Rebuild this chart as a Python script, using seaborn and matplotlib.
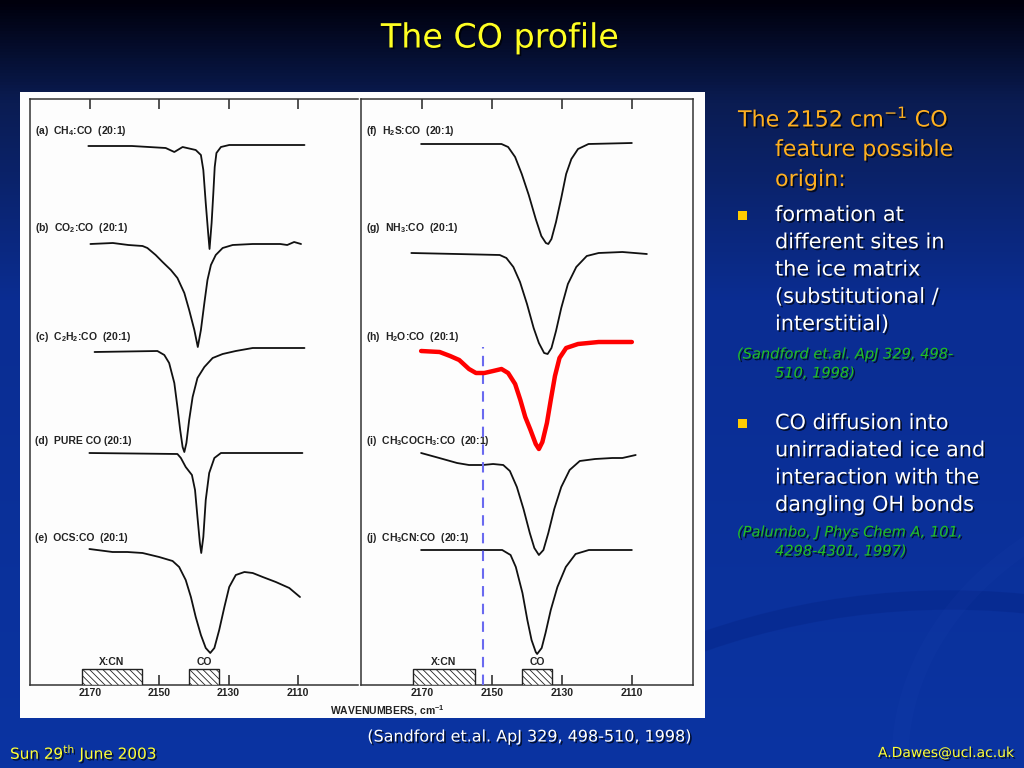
"""
Slide recreation: "The CO profile" — CO stretch band in 20:1 matrices
(Sandford et al. style stacked spectra) with bullet notes.
"""

import matplotlib
matplotlib.use("Agg")
import matplotlib.pyplot as plt
import matplotlib.patheffects as pe
from matplotlib.colors import LinearSegmentedColormap
from matplotlib.patches import Arc, Rectangle
import numpy as np
import pandas as pd
import seaborn as sns

# ---- spectra: wavenumber [cm-1] and stacked level (panel units)
A_WN = [2170.6, 2158.0, 2148.2, 2145.7, 2143.3, 2139.5, 2138.0, 2137.3, 2136.6, 2135.9,
        2135.5, 2134.9, 2134.4, 2134.0, 2133.5, 2132.2, 2129.8, 2120.0, 2108.0]
A_T = [539, 539, 537, 533, 538, 535, 530, 515, 482, 452, 436, 462, 492, 518, 532, 538, 540, 540, 540]

B_WN = [2170.0, 2163.5, 2159.0, 2154.9, 2153.5, 2151.1, 2149.1, 2146.7, 2144.8, 2142.8,
        2141.4, 2139.9, 2138.9, 2138.0, 2137.0, 2136.1, 2135.1, 2133.7, 2131.7, 2128.8,
        2123.0, 2115.0, 2113.0, 2111.0, 2109.0]
B_T = [441, 442, 440, 439, 437, 430, 423, 415, 407, 392, 375, 355, 338, 355, 382, 405, 420,
       430, 437, 440, 441, 441, 440, 443, 441]

C_WN = [2168.8, 2150.6, 2148.6, 2147.2, 2145.7, 2144.8, 2144.0, 2143.3, 2142.8, 2142.2,
        2141.4, 2140.4, 2139.0, 2137.0, 2134.6, 2131.7, 2127.9, 2123.0, 2108.0]
C_T = [333, 334, 330, 322, 302, 278, 255, 238, 233, 242, 265, 288, 307, 318, 327, 331, 334, 337, 337]

D_WN = [2170.3, 2144.8, 2143.8, 2142.4, 2140.6, 2139.7, 2139.0, 2138.3, 2137.9, 2137.3,
        2136.6, 2135.6, 2134.1, 2132.2, 2108.6]
D_T = [232, 231, 227, 218, 210, 195, 168, 142, 132, 148, 185, 212, 227, 232, 232]

E_WN = [2170.3, 2163.6, 2159.3, 2154.9, 2150.1, 2146.2, 2144.3, 2142.4, 2140.9, 2139.5,
        2138.0, 2136.6, 2135.3, 2134.1, 2132.7, 2131.2, 2129.8, 2127.9, 2125.4, 2123.0,
        2120.1, 2116.3, 2112.4, 2109.3]
E_T = [136, 133, 133, 132, 128, 124, 118, 105, 88, 68, 50, 37, 32, 37, 55, 78, 98, 110, 113,
       112, 108, 103, 97, 88]

F_WN = [2170.3, 2147.3, 2145.4, 2143.4, 2141.5, 2139.5, 2137.5, 2135.9, 2134.6, 2133.9,
        2133.0, 2131.7, 2130.2, 2128.8, 2127.3, 2125.4, 2122.4, 2110.0]
F_T = [541, 541, 538, 528, 511, 490, 466, 449, 442, 441, 446, 463, 487, 511, 526, 536, 541, 542]

G_WN = [2173.1, 2160.0, 2147.8, 2145.9, 2143.9, 2142.0, 2140.0, 2138.1, 2136.6, 2135.1,
        2134.1, 2133.0, 2131.7, 2130.2, 2128.3, 2125.9, 2122.9, 2119.5, 2112.7, 2105.7]
G_T = [432, 431, 430, 427, 418, 403, 381, 357, 342, 332, 331, 337, 354, 377, 401, 418, 429,
       432, 433, 431]

H_WN = [2170.3, 2165.0, 2162.0, 2159.4, 2156.6, 2154.6, 2152.2, 2149.7, 2147.3, 2145.4,
        2143.4, 2141.9, 2140.5, 2139.0, 2137.5, 2136.6, 2135.6, 2134.3, 2133.2, 2132.0,
        2130.7, 2128.8, 2125.4, 2119.5, 2110.0]
H_T = [334, 333, 329, 325, 316, 312, 312, 314, 316, 312, 301, 285, 268, 255, 241, 236, 243,
       262, 285, 309, 327, 337, 341, 343, 343]

I_WN = [2170.3, 2165.1, 2160.0, 2156.6, 2152.7, 2149.7, 2146.8, 2144.9, 2142.9, 2141.0,
        2139.2, 2137.9, 2136.6, 2135.3, 2133.9, 2132.2, 2130.2, 2127.8, 2124.9, 2120.5,
        2115.6, 2112.7, 2108.9]
I_T = [232, 227, 222, 220, 220, 221, 220, 214, 198, 176, 152, 137, 130, 135, 152, 176, 198,
       215, 224, 226, 227, 227, 230]

J_WN = [2170.3, 2147.1, 2144.7, 2143.2, 2141.3, 2139.9, 2138.7, 2137.5, 2137.1, 2135.8,
        2134.7, 2133.2, 2131.3, 2128.9, 2126.1, 2122.3, 2110.0]
J_T = [135, 135, 130, 118, 92, 65, 45, 33, 31, 37, 52, 75, 98, 118, 131, 135, 135]

LEFT_LABELS = ["(a)  CH$_4$:CO  (20:1)", "(b)  CO$_2$:CO  (20:1)", "(c)  C$_2$H$_2$:CO  (20:1)",
               "(d)  PURE CO (20:1)", "(e)  OCS:CO  (20:1)"]
RIGHT_LABELS = ["(f)  H$_2$S:CO  (20:1)", "(g)  NH$_3$:CO  (20:1)", "(h)  H$_2$O:CO  (20:1)",
                "(i)  CH$_3$COCH$_3$:CO  (20:1)", "(j)  CH$_3$CN:CO  (20:1)"]
LABEL_LEVELS = [554, 457, 348, 244, 147]

TICKS = [2170, 2150, 2130, 2110]
BANDS = ["X:CN", "CO"]
BAND_HI = [2172.5, 2141.5]
BAND_LO = [2155.0, 2132.8]
BAND_TOP = 16

DASH_WN = 2152.6
DASH_TOP = 338

BULLET_1 = ["formation at", "different sites in", "the ice matrix",
            "(substitutional /", "interstitial)"]
REF_1 = ["(Sandford et.al. ApJ 329, 498-", "510, 1998)"]
BULLET_2 = ["CO diffusion into", "unirradiated ice and",
            "interaction with the", "dangling OH bonds"]
REF_2 = ["(Palumbo, J Phys Chem A, 101,", "4298-4301, 1997)"]

W, H = 1024, 768
INK = "#222222"


def px_rect(x0, y0, x1, y1):
    return [x0 / W, 1 - y1 / H, (x1 - x0) / W, (y1 - y0) / H]


def build_frame():
    series = {
        "a": (A_WN, A_T, "L"), "b": (B_WN, B_T, "L"), "c": (C_WN, C_T, "L"),
        "d": (D_WN, D_T, "L"), "e": (E_WN, E_T, "L"),
        "f": (F_WN, F_T, "R"), "g": (G_WN, G_T, "R"), "h": (H_WN, H_T, "R"),
        "i": (I_WN, I_T, "R"), "j": (J_WN, J_T, "R"),
    }
    rows = []
    for key, (wn, t, panel) in series.items():
        for k, (x, y) in enumerate(zip(wn, t)):
            rows.append({"series": key, "panel": panel, "order": k, "wn": x, "level": y})
    return pd.DataFrame(rows)


def style_panel(ax, right_spine):
    ax.set_facecolor("none")
    ax.set_xlim(2187.5, 2092.5)
    ax.set_ylim(0, 586)
    ax.set_xticks(TICKS)
    ax.set_xticklabels([str(t) for t in TICKS], fontsize=7.5, fontweight="bold",
                       family="Liberation Sans")
    ax.set_yticks([])
    ax.tick_params(axis="x", direction="in", length=7, width=1.1, pad=2,
                   top=True, bottom=True, colors=INK)
    for sp in ax.spines.values():
        sp.set_color("#333333")
        sp.set_linewidth(1.1)
    ax.spines["right"].set_visible(right_spine)
    ax.set_xlabel("")
    ax.set_ylabel("")
    for name, hi, lo in zip(BANDS, BAND_HI, BAND_LO):
        ax.add_patch(Rectangle((lo, 0), hi - lo, BAND_TOP, facecolor="white",
                               edgecolor=INK, hatch="\\\\\\\\\\", lw=1.0, zorder=3))
        ax.text((hi + lo) / 2, BAND_TOP + 2, name, ha="center", va="bottom",
                fontsize=7.5, fontweight="bold", family="Liberation Sans", color=INK)


def main():
    sns.set_style("white")
    plt.rcParams["font.family"] = ["DejaVu Sans"]
    plt.rcParams["mathtext.default"] = "regular"
    plt.rcParams["hatch.linewidth"] = 0.6

    df = build_frame()

    fig = plt.figure(figsize=(W / 100, H / 100), dpi=100)

    # slide background
    bg = fig.add_axes([0, 0, 1, 1], zorder=0)
    cmap = LinearSegmentedColormap.from_list(
        "slide", [(0, "#00000c"), (100 / H, "#0a1c52"), (300 / H, "#0b2d92"), (1, "#0a34a2")])
    bg.imshow(np.linspace(0, 1, 256).reshape(-1, 1), cmap=cmap, aspect="auto",
              extent=[0, W, H, 0])
    bg.set_xlim(0, W)
    bg.set_ylim(H, 0)
    bg.axis("off")
    # faint swooshes in the lower right of the template
    bg.add_patch(Arc((950, 1250), 1400, 1300, theta1=235, theta2=305, lw=14,
                     color="#06268a", alpha=0.5))
    bg.add_patch(Arc((1250, 760), 700, 560, theta1=180, theta2=250, lw=12,
                     color="#3050c0", alpha=0.08))
    bg.add_patch(Rectangle((20, 92), 685, 626, facecolor="#fdfdfd", edgecolor="none"))

    axL = fig.add_axes(px_rect(30, 99, 358, 685), zorder=2)
    axR = fig.add_axes(px_rect(361, 99, 693, 685), zorder=2)

    for ax, panel, labels in [(axL, "L", LEFT_LABELS), (axR, "R", RIGHT_LABELS)]:
        sub = df[df["panel"] == panel]
        for key, grp in sub.groupby("series"):
            red = key == "h"
            sns.lineplot(data=grp, x="wn", y="level", ax=ax, sort=False, estimator=None,
                         color="#ff0000" if red else "#111111", lw=3.2 if red else 1.3,
                         zorder=5 if red else 4, legend=False,
                         solid_joinstyle="round", solid_capstyle="round")
        for lab, lev in zip(labels, LABEL_LEVELS):
            ax.text(2186, lev, lab, ha="left", va="center", fontsize=7.5, fontweight="bold",
                    family="Liberation Sans", color=INK)
        style_panel(ax, right_spine=(panel == "R"))

    axR.vlines(DASH_WN, 0, DASH_TOP, colors="#6a6af0", lw=1.5, linestyles=(0, (5, 3.5)), zorder=4)

    bg.text(387, 711, "WAVENUMBERS, cm$^{-1}$", ha="center", va="center", fontsize=7.5,
            fontweight="bold", family="Liberation Sans", color=INK, zorder=3)

    shadow = [pe.withSimplePatchShadow(offset=(1.2, -1.2), shadow_rgbFace="black", alpha=0.7)]

    # title
    bg.text(500, 38, "The CO profile", ha="center", va="center", fontsize=24,
            color="#ffff22", path_effects=shadow)

    # right-hand notes
    orange = "#ffb020"
    bg.text(738, 118, "The 2152 cm$^{-1}$ CO", ha="left", va="center", fontsize=16,
            color=orange, path_effects=shadow)
    bg.text(775, 150, "feature possible", ha="left", va="center", fontsize=16,
            color=orange, path_effects=shadow)
    bg.text(775, 180, "origin:", ha="left", va="center", fontsize=16,
            color=orange, path_effects=shadow)

    for y0, lines in [(215, BULLET_1), (423, BULLET_2)]:
        bg.add_patch(Rectangle((738, y0 - 4.5), 9, 9, facecolor="#ffcc00", edgecolor="none"))
        for k, line in enumerate(lines):
            bg.text(775, y0 + k * 27.3, line, ha="left", va="center", fontsize=15,
                    color="white", path_effects=shadow)

    green = "#22c022"
    for y0, lines in [(354, REF_1), (532, REF_2)]:
        bg.text(737, y0, lines[0], ha="left", va="center", fontsize=10.5, style="italic",
                color=green, path_effects=shadow)
        bg.text(775, y0 + 19, lines[1], ha="left", va="center", fontsize=10.5, style="italic",
                color=green, path_effects=shadow)

    # footer
    bg.text(10, 753, "Sun 29$^{th}$ June 2003", ha="left", va="center", fontsize=11,
            color="#ffff33", path_effects=shadow)
    bg.text(530, 737, "(Sandford et.al. ApJ 329, 498-510, 1998)", ha="center", va="center",
            fontsize=11.5, color="white", path_effects=shadow)
    bg.text(1014, 753, "A.Dawes@ucl.ac.uk", ha="right", va="center", fontsize=10,
            color="#ffff33", path_effects=shadow)

    fig.savefig("out.png", dpi=100)
    plt.close(fig)


if __name__ == "__main__":
    main()
